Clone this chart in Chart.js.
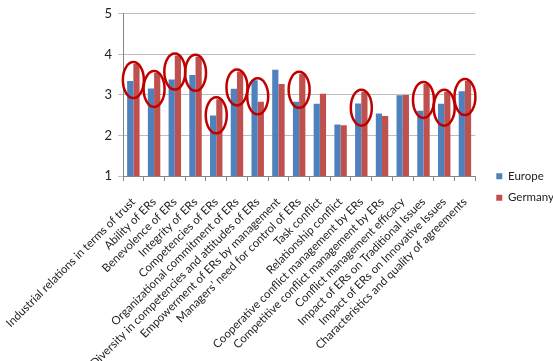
<!DOCTYPE html>
<html>
<head>
<meta charset="utf-8">
<script src="https://cdn.jsdelivr.net/npm/chart.js@4.4.1/dist/chart.umd.min.js"></script>
<style>
  html, body { margin: 0; padding: 0; background: #fff; }
</style>
</head>
<body>
<canvas id="chart" width="553" height="361"></canvas>
<script>
const categories = [
  'Industrial relations in terms of trust',
  'Ability of ERs',
  'Benevolence of ERs',
  'Integrity of ERs',
  'Competencies of ERs',
  'Organizational commitment of ERs',
  'Diversity in competencies and attitudes of ERs',
  'Empowerment of ERs by management',
  'Managers\u2019 need for control of ERs',
  'Task conflict',
  'Relationship conflict',
  'Cooperative conflict management by ERs',
  'Competitive conflict management by ERs',
  'Conflict management efficacy',
  'Impact of ERs on Traditional Issues',
  'Impact of ERs on Innovative Issues',
  'Characteristics and quality of agreements'
];
const europe  = [3.34, 3.16, 3.38, 3.49, 2.49, 3.15, 3.36, 3.62, 2.83, 2.78, 2.27, 2.79, 2.54, 2.99, 2.61, 2.78, 3.09];
const germany = [3.76, 3.54, 3.97, 3.94, 2.89, 3.58, 2.83, 3.27, 3.52, 3.03, 2.25, 3.08, 2.48, 3.00, 3.27, 3.08, 3.34];
const yMin = 1, yMax = 5, yStep = 1;
// categories that carry a red ring in the original
const circled = [0, 1, 2, 3, 4, 5, 6, 8, 11, 14, 15, 16];

const FONT = 'Lato, "Open Sans", sans-serif';

// red rings drawn around the top of some bar pairs
const ringPlugin = {
  id: 'rings',
  afterDatasetsDraw(chart) {
    const { ctx, scales: { x, y } } = chart;
    ctx.save();
    ctx.strokeStyle = '#C00000';
    ctx.lineWidth = 2.5;
    circled.forEach(i => {
      const cx = x.getPixelForValue(i);
      const cy = y.getPixelForValue(Math.max(europe[i], germany[i])) + 16;
      ctx.beginPath();
      ctx.ellipse(cx, cy, 10.5, 18, 0, 0, Math.PI * 2);
      ctx.stroke();
    });
    ctx.restore();
  }
};

// nudge legend a bit to the right of the plot
const legendShift = {
  id: 'legendShift',
  afterLayout(chart) {
    const lg = chart.legend;
    lg.left += 11;
    lg.right = 553;
    lg.top += 3;
    lg.bottom += 3;
  }
};

new Chart(document.getElementById('chart'), {
  type: 'bar',
  data: {
    labels: categories,
    datasets: [
      { label: 'Europe', data: europe, backgroundColor: '#4F81BD' },
      { label: 'Germany', data: germany, backgroundColor: '#C0504D' }
    ]
  },
  options: {
    responsive: false,
    animation: false,
    layout: { padding: { top: 7, right: 0, left: 0, bottom: 0 } },
    datasets: { bar: { barPercentage: 1, categoryPercentage: 0.6 } },
    scales: {
      x: {
        grid: { display: true, drawOnChartArea: false, tickLength: 5, color: '#868686', offset: true },
        border: { color: '#868686' },
        ticks: {
          autoSkip: false, maxRotation: 45, minRotation: 45,
          color: '#222', padding: 14,
          font: { family: FONT, size: 11.5 }
        },
        afterFit(s) { s.height = 185; s.paddingLeft = 0; s.paddingRight = 0; }
      },
      y: {
        min: yMin, max: yMax,
        grid: { color: '#BFBFBF', tickLength: 5 },
        border: { color: '#868686' },
        ticks: { stepSize: yStep, color: '#222', padding: 6, font: { family: FONT, size: 13 } },
        afterFit(s) { s.width = 123; }
      }
    },
    plugins: {
      legend: {
        position: 'right',
        maxWidth: 78,
        labels: {
          boxWidth: 6, boxHeight: 6, padding: 10, color: '#222',
          font: { family: FONT, size: 11.5 }
        }
      },
      tooltip: { enabled: false }
    }
  },
  plugins: [ringPlugin, legendShift]
});
</script>
</body>
</html>
